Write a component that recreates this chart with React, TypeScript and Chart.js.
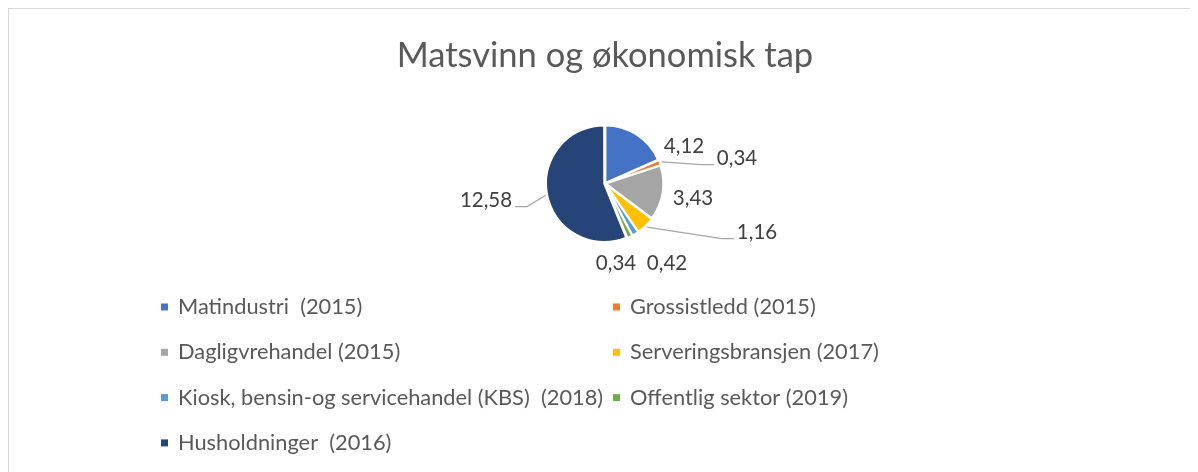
import React, { useEffect, useRef } from "react";
import { Chart, registerables } from "chart.js";

Chart.register(...registerables);

const titleText = "Matsvinn og økonomisk tap";
const categories = [
  "Matindustri  (2015)",
  "Grossistledd (2015)",
  "Dagligvrehandel (2015)",
  "Serveringsbransjen (2017)",
  "Kiosk, bensin-og servicehandel (KBS)  (2018)",
  "Offentlig sektor (2019)",
  "Husholdninger  (2016)",
];
const values = [4.12, 0.34, 3.43, 1.16, 0.42, 0.34, 12.58];
const colors = ["#4472C4", "#ED7D31", "#A5A5A5", "#FFC000", "#5B9BD5", "#70AD47", "#264478"];

// data label placement relative to the pie centre, and whether a leader line is drawn
const labelOffsets: [number, number][] = [
  [79, -37],
  [132, -25],
  [88, 15],
  [152, 49],
  [62, 80],
  [11, 80],
  [-119, 17],
];
const leaderLines = [false, true, false, true, false, false, true];

const FONT = "Lato, 'Open Sans', sans-serif";
const W = 1189;
const H = 463;

const labelPlugin = {
  id: "pieLabels",
  afterDatasetsDraw(chart: any) {
    const ctx = chart.ctx;
    const meta = chart.getDatasetMeta(0);
    const ds = chart.data.datasets[0];
    ctx.save();
    ctx.font = `20.5px ${FONT}`;
    ctx.textBaseline = "middle";
    ctx.textAlign = "center";
    meta.data.forEach((arc: any, i: number) => {
      const p = arc.getProps(["x", "y", "startAngle", "endAngle", "outerRadius"], true);
      const off = arc.options.offset || 0;
      const mid = (p.startAngle + p.endAngle) / 2;
      const text = (ds.data[i] as number).toFixed(2).replace(".", ",");
      const [dx, dy] = labelOffsets[i];
      const lx = p.x + dx;
      const ly = p.y + dy;
      const w = ctx.measureText(text).width;
      if (leaderLines[i]) {
        const r = p.outerRadius + off;
        const sx = p.x + Math.cos(mid) * r;
        const sy = p.y + Math.sin(mid) * r;
        const right = dx > 0;
        const ex = right ? lx - w / 2 - 3 : lx + w / 2 + 3;
        const ey = ly + 6;
        const bx = right ? ex - 12 : ex + 12;
        ctx.beginPath();
        ctx.moveTo(sx, sy);
        ctx.lineTo(bx, ey);
        ctx.lineTo(ex, ey);
        ctx.strokeStyle = "#a6a6a6";
        ctx.lineWidth = 1.2;
        ctx.stroke();
      }
      ctx.fillStyle = "#404040";
      ctx.fillText(text, lx, ly);
    });
    ctx.restore();
  },
};

const legendPlugin = {
  id: "gridLegend",
  afterDraw(chart: any) {
    const ctx = chart.ctx;
    const labels = chart.data.labels as string[];
    const bg = chart.data.datasets[0].backgroundColor as string[];
    const colX = [152, 604];
    const top = chart.chartArea.bottom + 63.5;
    const rowGap = 45.3;
    ctx.save();
    ctx.font = `21.8px ${FONT}`;
    ctx.textBaseline = "middle";
    ctx.textAlign = "left";
    labels.forEach((lab, i) => {
      const col = i % 2;
      const row = Math.floor(i / 2);
      const x = colX[col];
      const y = top + row * rowGap;
      ctx.fillStyle = bg[i];
      ctx.fillRect(x, y - 3.5, 7, 7);
      ctx.fillStyle = "#595959";
      ctx.fillText(lab, x + 17, y);
    });
    ctx.restore();
  },
};

export default function App() {
  const ref = useRef<HTMLCanvasElement>(null);
  useEffect(() => {
    if (!ref.current) return;
    const chart = new Chart(ref.current, {
      type: "pie",
      data: {
        labels: categories,
        datasets: [
          {
            data: values,
            backgroundColor: colors,
            borderColor: "#ffffff",
            borderWidth: 2,
            offset: 3,
          },
        ],
      },
      options: {
        responsive: false,
        animation: false,
        layout: { padding: { top: 0, bottom: 228.5, left: 3, right: 0 } },
        plugins: {
          legend: { display: false },
          tooltip: { enabled: false },
          title: {
            display: true,
            text: titleText,
            color: "#595959",
            font: { family: FONT, size: 34.5, weight: "normal" as any },
            padding: { top: 26, bottom: 47.2 },
          },
        },
      },
      plugins: [labelPlugin, legendPlugin],
    });
    return () => chart.destroy();
  }, []);
  return (
    <div
      style={{
        width: 1190,
        height: 464,
        boxSizing: "border-box",
        borderTop: "1px solid #d9d9d9",
        borderLeft: "1px solid #d9d9d9",
        background: "#fff",
      }}
    >
      <canvas ref={ref} width={W} height={H} style={{ display: "block", width: W, height: H }} />
    </div>
  );
}
